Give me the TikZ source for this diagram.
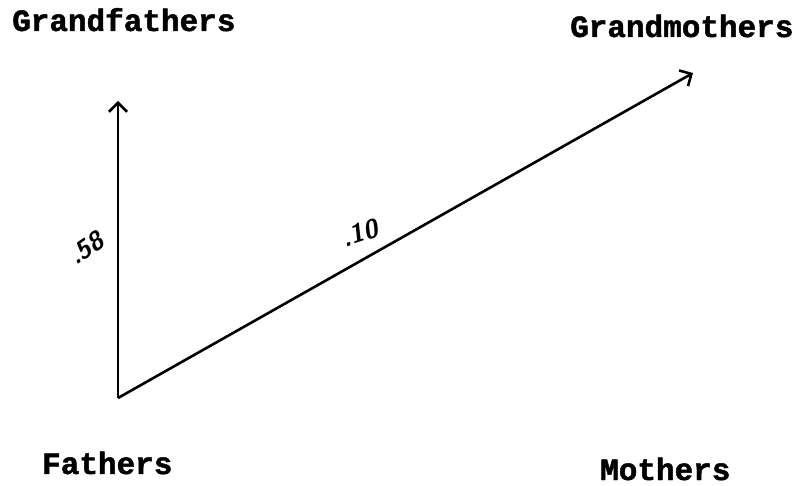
\documentclass[tikz,border=0pt]{standalone}
\usepackage{fontspec}
\setmonofont[BoldFeatures={FakeBold=1.5}]{Liberation Mono}
\usetikzlibrary{arrows.meta}
\tikzset{
  lbl/.style={font=\ttfamily\bfseries\fontsize{31}{31}\selectfont, anchor=base west, inner sep=0pt},
  coef/.style={font=\sffamily\bfseries\itshape\fontsize{26}{26}\selectfont, inner sep=0pt},
  arr/.style={line width=2.6pt, -{Straight Barb[length=9pt,width=18pt,line width=2.6pt]}}
}
\begin{document}
\begin{tikzpicture}[x=1pt,y=-1pt]
\useasboundingbox (0,0) rectangle (804,486);
\node[lbl] (gf) at (12,31) {Grandfathers};
\node[lbl] (gm) at (570,37) {Grandmothers};
\node[lbl] (fa) at (42,474) {Fathers};
\node[lbl] (mo) at (600,480) {Mothers};
\coordinate (o) at (118,398);
\coordinate (tgf) at (118,101);
\coordinate (tgm) at (693,73);
\draw[arr] (o) -- (tgf);
\draw[arr] (o) -- (tgm);
\node[coef, rotate=35] (c58) at (86,248) {.58};
\node[coef, rotate=18] (c10) at (360,233) {.10};
\end{tikzpicture}
\end{document}
